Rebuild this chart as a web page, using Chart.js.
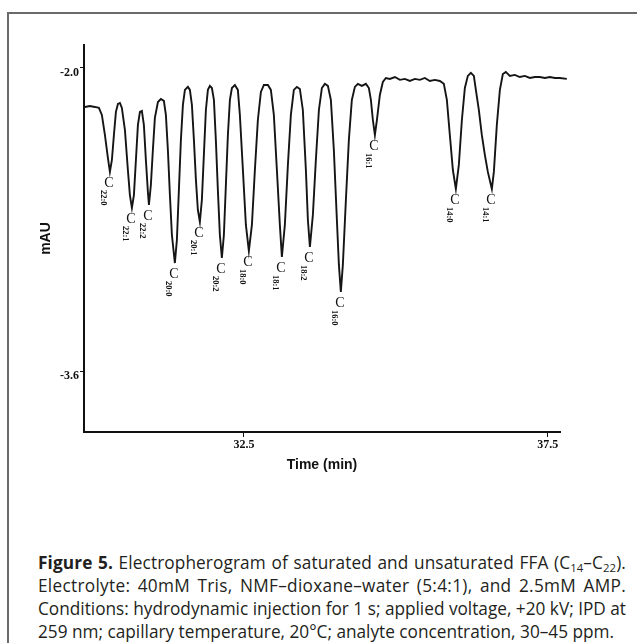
<!DOCTYPE html>
<html>
<head>
<meta charset="utf-8">
<title>Electropherogram of FFA</title>
<script src="https://cdn.jsdelivr.net/npm/chart.js@4.4.1/dist/chart.umd.min.js"></script>
<style>
  html, body { margin: 0; padding: 0; background: #fff; }
  body { width: 637px; height: 643px; position: relative; overflow: hidden; }
  #frame { position: absolute; left: 7px; top: 12px; width: 700px; height: 700px;
           border: 2px solid #6a6a6a; box-sizing: border-box; }
  #chartBox { position: absolute; left: 0; top: 0; width: 637px; height: 500px; }
  #caption { position: absolute; left: 38px; top: 551px; transform-origin: 0 0; color: #231f20;
             font-family: "Open Sans", "Noto Sans", "Liberation Sans", sans-serif; font-size: 17.5px; }
  .cap { white-space: nowrap; height: 23px; line-height: 23px; }
  .cap span { display: inline-block; }
  .cap b { font-weight: 700; }
  .cap sub { font-size: 11.5px; vertical-align: -3px; line-height: 0; }
</style>
</head>
<body>
<div id="frame"></div>
<div id="chartBox"><canvas id="epg" width="637" height="500"></canvas></div>

<div id="caption">
  <div class="cap just"><span><b>Figure 5.</b> Electropherogram of saturated and unsaturated FFA (C<sub>14</sub>–C<sub>22</sub>).</span></div>
  <div class="cap just"><span>Electrolyte: 40mM Tris, NMF–dioxane–water (5:4:1), and 2.5mM AMP.</span></div>
  <div class="cap just"><span>Conditions: hydrodynamic injection for 1 s; applied voltage, +20 kV; IPD at</span></div>
  <div class="cap"><span>259 nm; capillary temperature, 20°C; analyte concentration, 30–45 ppm.</span></div>
</div>

<script>
// trace: migration time (min) and detector signal (mAU)
const timeMin = [
  29.885, 29.967, 30.049, 30.115, 30.164, 30.214, 30.263, 30.296, 30.329, 30.362,
  30.395, 30.428, 30.461, 30.493, 30.543, 30.592, 30.625, 30.658, 30.691, 30.724,
  30.757, 30.790, 30.822, 30.855, 30.888, 30.921, 30.938, 30.970, 31.003, 31.036,
  31.086, 31.135, 31.184, 31.217, 31.250, 31.283, 31.316, 31.365, 31.398, 31.431,
  31.464, 31.497, 31.530, 31.579, 31.612, 31.645, 31.678, 31.711, 31.743, 31.776,
  31.809, 31.842, 31.875, 31.908, 31.941, 31.974, 32.007, 32.039, 32.072, 32.105,
  32.138, 32.171, 32.204, 32.237, 32.270, 32.303, 32.352, 32.401, 32.434, 32.484,
  32.533, 32.582, 32.632, 32.681, 32.730, 32.780, 32.829, 32.895, 32.944, 32.993,
  33.043, 33.092, 33.125, 33.174, 33.224, 33.273, 33.322, 33.372, 33.421, 33.470,
  33.520, 33.553, 33.586, 33.635, 33.684, 33.734, 33.783, 33.832, 33.882, 33.931,
  33.980, 34.030, 34.063, 34.095, 34.128, 34.178, 34.227, 34.276, 34.326, 34.375,
  34.441, 34.507, 34.556, 34.589, 34.622, 34.655, 34.688, 34.737, 34.786, 34.836,
  34.901, 34.984, 35.066, 35.148, 35.230, 35.313, 35.395, 35.477, 35.559, 35.641,
  35.724, 35.789, 35.839, 35.888, 35.938, 35.987, 36.036, 36.086, 36.135, 36.184,
  36.234, 36.283, 36.316, 36.365, 36.414, 36.464, 36.513, 36.579, 36.612, 36.661,
  36.711, 36.760, 36.809, 36.875, 36.957, 37.039, 37.122, 37.204, 37.286, 37.368,
  37.451, 37.533, 37.615, 37.697, 37.812
];
const signalMAU = [
  -2.206, -2.201, -2.206, -2.211, -2.248, -2.354, -2.475, -2.549, -2.486, -2.354,
  -2.232, -2.190, -2.185, -2.211, -2.327, -2.539, -2.671, -2.739, -2.671, -2.486,
  -2.301, -2.232, -2.227, -2.301, -2.486, -2.655, -2.723, -2.618, -2.433, -2.264,
  -2.180, -2.164, -2.174, -2.248, -2.433, -2.671, -2.882, -3.030, -2.908, -2.644,
  -2.380, -2.195, -2.116, -2.100, -2.116, -2.195, -2.380, -2.591, -2.750, -2.813,
  -2.697, -2.459, -2.222, -2.116, -2.095, -2.106, -2.169, -2.380, -2.644, -2.882,
  -3.003, -2.882, -2.618, -2.354, -2.169, -2.106, -2.090, -2.116, -2.248, -2.539,
  -2.829, -2.966, -2.829, -2.539, -2.275, -2.127, -2.090, -2.090, -2.116, -2.248,
  -2.539, -2.829, -2.998, -2.829, -2.512, -2.248, -2.116, -2.100, -2.111, -2.222,
  -2.539, -2.803, -2.945, -2.776, -2.486, -2.222, -2.106, -2.084, -2.095, -2.169,
  -2.433, -2.803, -3.040, -3.183, -3.040, -2.697, -2.380, -2.169, -2.100, -2.084,
  -2.095, -2.084, -2.106, -2.169, -2.275, -2.354, -2.275, -2.143, -2.074, -2.053,
  -2.058, -2.048, -2.063, -2.058, -2.069, -2.058, -2.063, -2.053, -2.069, -2.063,
  -2.069, -2.084, -2.169, -2.354, -2.539, -2.639, -2.512, -2.275, -2.106, -2.042,
  -2.026, -2.042, -2.116, -2.222, -2.354, -2.459, -2.549, -2.639, -2.549, -2.301,
  -2.116, -2.032, -2.021, -2.042, -2.037, -2.048, -2.042, -2.053, -2.048, -2.048,
  -2.053, -2.048, -2.053, -2.053, -2.058
];

// peak annotations (subscript part of each C label) at the peak minima
const peakNames  = ['22:0', '22:1', '22:2', '20:0', '20:1', '20:2', '18:0', '18:1', '18:2', '16:0', '16:1', '14:0', '14:1'];
const peakTimes  = [30.296, 30.658, 30.938, 31.365, 31.776, 32.138, 32.582, 33.125, 33.586, 34.095, 34.655, 35.987, 36.579];
const peakValues = [-2.549, -2.739, -2.723, -3.030, -2.813, -3.003, -2.966, -2.998, -2.945, -3.183, -2.354, -2.639, -2.639];

// axis ticks
const xTickValues = [32.5, 37.5];
const yTickValues = [-2.0, -3.6];

const ink = '#111';

// C labels drawn under each peak, subscript turned on its side
const peakLabels = {
  id: 'peakLabels',
  afterDatasetsDraw(chart) {
    const { ctx, scales: { x, y } } = chart;
    ctx.save();
    ctx.fillStyle = ink;
    peakNames.forEach((name, i) => {
      const px = x.getPixelForValue(peakTimes[i]);
      const py = y.getPixelForValue(peakValues[i]);
      ctx.font = '14px "Liberation Serif", serif';
      ctx.textAlign = 'center';
      ctx.textBaseline = 'middle';
      ctx.fillText('C', px - 1, py + 11);
      ctx.save();
      ctx.translate(px - 7, py + 18);
      ctx.rotate(Math.PI / 2);
      ctx.font = 'bold 8.5px "Liberation Serif", serif';
      ctx.textAlign = 'left';
      ctx.fillText(name, 0, 0);
      ctx.restore();
    });
    ctx.restore();
  }
};

const tickFont = { family: '"Liberation Serif", serif', size: 12, weight: 'bold' };
const titleFont = { family: '"Liberation Sans", Arial, sans-serif', size: 14, weight: 'bold' };

new Chart(document.getElementById('epg'), {
  type: 'line',
  data: {
    datasets: [{
      data: timeMin.map((t, i) => ({ x: t, y: signalMAU[i] })),
      borderColor: '#151515',
      borderWidth: 1.9,
      pointRadius: 0,
      tension: 0,
      clip: false
    }]
  },
  options: {
    responsive: false,
    animation: false,
    devicePixelRatio: 1,
    layout: { padding: { top: 45, right: 77, left: 0, bottom: 0 } },
    plugins: { legend: { display: false }, tooltip: { enabled: false } },
    scales: {
      x: {
        type: 'linear',
        min: 29.87,
        max: 37.70,
        afterBuildTicks: s => { s.ticks = xTickValues.map(v => ({ value: v })); },
        afterFit: s => { s.height = 68; },
        border: { color: ink, width: 2 },
        grid: { drawOnChartArea: false, tickLength: 5, color: ink, lineWidth: 1 },
        ticks: { color: ink, font: tickFont, padding: 1, maxRotation: 0, autoSkip: false,
                 callback: v => Number(v).toFixed(1) },
        title: { display: true, text: 'Time (min)', color: ink, font: titleFont,
                 padding: { top: 0, bottom: 26 } }
      },
      y: {
        type: 'linear',
        min: -3.922,
        max: -1.879,
        afterBuildTicks: s => { s.ticks = yTickValues.map(v => ({ value: v })); },
        afterFit: s => { s.width = 84; },
        border: { color: ink, width: 2 },
        grid: { drawOnChartArea: false, tickLength: 4, color: ink, lineWidth: 1 },
        ticks: { color: ink, font: tickFont, padding: 1, labelOffset: 5, autoSkip: false,
                 callback: v => Number(v).toFixed(1) },
        title: { display: true, text: 'mAU', color: ink, font: titleFont,
                 padding: { top: 38, bottom: 0 } }
      }
    }
  },
  plugins: [peakLabels]
});

// caption: one horizontal squeeze for all lines, first three lines justified
// (the slack is shared between letter spacing and word spacing)
const captionWidth = 588;
const lines = Array.from(document.querySelectorAll('#caption .cap'));
const natural = lines.map(l => l.querySelector('span').getBoundingClientRect().width);
const squeeze = captionWidth / Math.max(natural[0], natural[1], natural[2]);
lines.forEach((l, i) => {
  if (!l.classList.contains('just')) return;
  const span = l.querySelector('span');
  const text = span.textContent;
  const gaps = (text.match(/ /g) || []).length;
  const slack = captionWidth / squeeze - natural[i];
  span.style.letterSpacing = (slack * 0.5 / text.length).toFixed(3) + 'px';
  span.style.wordSpacing = (slack * 0.5 / gaps).toFixed(3) + 'px';
});
document.getElementById('caption').style.transform = 'scaleX(' + squeeze.toFixed(4) + ')';
</script>
</body>
</html>
